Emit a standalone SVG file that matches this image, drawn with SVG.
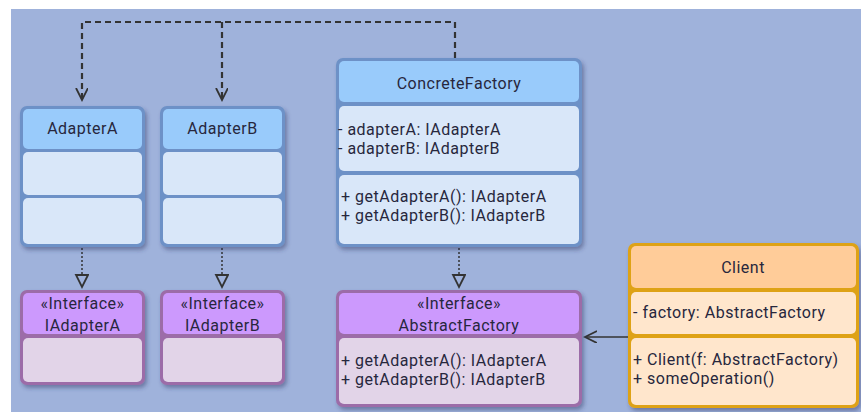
<svg xmlns="http://www.w3.org/2000/svg" width="861" height="412" viewBox="0 0 861 412">
<defs>
<style>
text{font-family:Roboto,"Open Sans",sans-serif;font-size:16px;letter-spacing:0.5px;fill:#27273d}
.c{text-anchor:middle}
.bB{fill:#6d91c7}.hB{fill:#99cbfb}.mB{fill:#d9e7f9}
.bP{fill:#9c6ca8}.hP{fill:#cc99fd}.mP{fill:#e2d4e8}
.bO{fill:#deA214}.hO{fill:#ffcc99}.mO{fill:#ffe6cc}
.dash{fill:none;stroke:#333;stroke-width:2.2;stroke-dasharray:6 4}
.dot{fill:none;stroke:#333;stroke-width:1.5;stroke-dasharray:2 2}
.solid{fill:none;stroke:#333;stroke-width:1.5}
</style>
<filter id="sh" x="-10%" y="-10%" width="130%" height="130%">
<feDropShadow dx="2" dy="3" stdDeviation="2" flood-color="#2a3560" flood-opacity="0.45"/>
</filter>
<marker id="open" markerWidth="14" markerHeight="14" refX="12" refY="6" orient="auto" markerUnits="userSpaceOnUse">
<path d="M0 0 L12 6 L0 12" fill="none" stroke="#333" stroke-width="1.8"/>
</marker>
<marker id="tri" markerWidth="16" markerHeight="16" refX="13" refY="7" orient="auto" markerUnits="userSpaceOnUse">
<path d="M1 1 L13 7 L1 13 Z" fill="#9fb2db" stroke="#333" stroke-width="1.8"/>
</marker>
</defs>
<rect x="11" y="9" width="850" height="403" fill="#9fb2db"/>

<g id="connectors">
<path class="dash" d="M455 58 V22 H82 V100" marker-end="url(#open)"/>
<path class="dash" d="M222 22 V100" marker-end="url(#open)"/>
<path class="dot" d="M82 248 V287" marker-end="url(#tri)"/>
<path class="dot" d="M222 248 V287" marker-end="url(#tri)"/>
<path class="dot" d="M459 248 V287" marker-end="url(#tri)"/>
<path class="solid" d="M628 337 H585" marker-end="url(#open)"/>
</g>

<g id="AdapterA">
<rect class="bB" x="20" y="106" width="125" height="141" rx="7" filter="url(#sh)"/>
<rect class="hB" x="23" y="109" width="119" height="40" rx="5"/>
<rect class="mB" x="23" y="152" width="119" height="43" rx="5"/>
<rect class="mB" x="23" y="198" width="119" height="46" rx="5"/>
<text class="c" x="82.5" y="134">AdapterA</text>
</g>

<g id="AdapterB">
<rect class="bB" x="160" y="106" width="125" height="141" rx="7" filter="url(#sh)"/>
<rect class="hB" x="163" y="109" width="119" height="40" rx="5"/>
<rect class="mB" x="163" y="152" width="119" height="43" rx="5"/>
<rect class="mB" x="163" y="198" width="119" height="46" rx="5"/>
<text class="c" x="222.5" y="134">AdapterB</text>
</g>

<g id="ConcreteFactory">
<rect class="bB" x="336" y="58" width="246" height="189" rx="7" filter="url(#sh)"/>
<rect class="hB" x="339" y="61" width="240" height="41" rx="5"/>
<rect class="mB" x="339" y="106" width="240" height="65" rx="5"/>
<rect class="mB" x="339" y="175" width="240" height="69" rx="5"/>
<text class="c" x="459" y="89">ConcreteFactory</text>
<text x="338" y="135">- adapterA: IAdapterA</text>
<text x="338" y="154">- adapterB: IAdapterB</text>
<text x="341" y="202">+ getAdapterA(): IAdapterA</text>
<text x="341" y="221">+ getAdapterB(): IAdapterB</text>
</g>

<g id="IAdapterA">
<rect class="bP" x="20" y="290" width="125" height="95" rx="7" filter="url(#sh)"/>
<rect class="hP" x="23" y="293" width="119" height="41" rx="5"/>
<rect class="mP" x="23" y="338" width="119" height="44" rx="5"/>
<text class="c" x="82.5" y="309">«Interface»</text>
<text class="c" x="82.5" y="331">IAdapterA</text>
</g>

<g id="IAdapterB">
<rect class="bP" x="160" y="290" width="125" height="95" rx="7" filter="url(#sh)"/>
<rect class="hP" x="163" y="293" width="119" height="41" rx="5"/>
<rect class="mP" x="163" y="338" width="119" height="44" rx="5"/>
<text class="c" x="222.5" y="309">«Interface»</text>
<text class="c" x="222.5" y="331">IAdapterB</text>
</g>

<g id="AbstractFactory">
<rect class="bP" x="336" y="290" width="246" height="117" rx="7" filter="url(#sh)"/>
<rect class="hP" x="339" y="293" width="240" height="41" rx="5"/>
<rect class="mP" x="339" y="338" width="240" height="66" rx="5"/>
<text class="c" x="459" y="309">«Interface»</text>
<text class="c" x="459" y="331">AbstractFactory</text>
<text x="341" y="366">+ getAdapterA(): IAdapterA</text>
<text x="341" y="385">+ getAdapterB(): IAdapterB</text>
</g>

<g id="Client">
<rect class="bO" x="628" y="243" width="231" height="165" rx="7" filter="url(#sh)"/>
<rect class="hO" x="631" y="246" width="225" height="42" rx="5"/>
<rect class="mO" x="631" y="292" width="225" height="42" rx="5"/>
<rect class="mO" x="631" y="338" width="225" height="67" rx="5"/>
<text class="c" x="743" y="273">Client</text>
<text x="633" y="318">- factory: AbstractFactory</text>
<text x="633" y="365">+ Client(f: AbstractFactory)</text>
<text x="633" y="384">+ someOperation()</text>
</g>
</svg>
